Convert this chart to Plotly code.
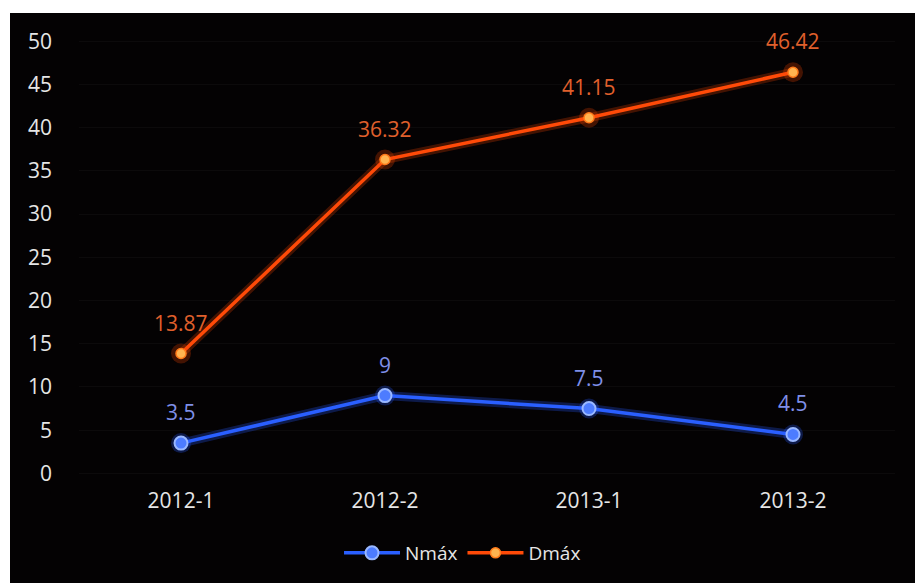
import plotly.graph_objects as go

periods = ["2012-1", "2012-2", "2013-1", "2013-2"]
n_max = [3.5, 9, 7.5, 4.5]
d_max = [13.87, 36.32, 41.15, 46.42]
y_ticks = [0, 5, 10, 15, 20, 25, 30, 35, 40, 45, 50]

FONT = "Open Sans"
BLUE = "#2a5fff"
ORANGE = "#ff4a08"
BG = "#040203"
W, H = 915, 583
ML, MR, MT, MB = 79, 20, 24, 100
PW, PH = W - ML - MR, H - MT - MB

fig = go.Figure()

# soft glow under each line
for vals, col in [(n_max, "rgba(40,90,255,0.28)"), (d_max, "rgba(255,70,0,0.25)")]:
    fig.add_trace(go.Scatter(
        x=periods, y=vals, mode="lines+markers",
        line=dict(color=col, width=9), marker=dict(size=20, color=col),
        hoverinfo="skip", showlegend=False,
    ))

fig.add_trace(go.Scatter(
    x=periods, y=n_max, name="Nmáx", mode="lines+markers",
    line=dict(color=BLUE, width=3.5),
    marker=dict(size=13, color="#4d7cff", line=dict(color="#9ab8ff", width=2)),
))
fig.add_trace(go.Scatter(
    x=periods, y=d_max, name="Dmáx", mode="lines+markers",
    line=dict(color=ORANGE, width=3.5),
    marker=dict(size=10, color="#ffb450", line=dict(color="#ff7a1a", width=1.5)),
))

# value labels above each point
for vals, col in [(n_max, "#7f8fe8"), (d_max, "#e0602c")]:
    for p, v in zip(periods, vals):
        fig.add_annotation(
            x=p, y=v, text=f"{v:g}", showarrow=False, yshift=31,
            font=dict(family=FONT, size=21, color=col),
        )

fig.update_layout(
    width=W, height=H,
    margin=dict(l=ML, r=MR, t=MT, b=MB),
    paper_bgcolor=BG, plot_bgcolor="rgba(0,0,0,0)",
    font=dict(family=FONT, color="#e6e6e6"),
    xaxis=dict(
        type="category", range=[-0.5, 3.5], showgrid=False, zeroline=False,
        showline=False, tickfont=dict(size=21, color="#e6e6e6"),
        ticks="outside", ticklen=0, tickcolor="rgba(0,0,0,0)",
    ),
    yaxis=dict(
        range=[-1, 52], tickvals=y_ticks, showgrid=True,
        gridcolor="rgba(255,255,255,0.035)", zeroline=False, showline=False,
        tickfont=dict(size=21, color="#e6e6e6"), ticklabelstandoff=26,
    ),
    legend=dict(
        orientation="h", x=0.47, xanchor="center",
        y=-(553 - (H - MB)) / PH, yanchor="middle",
        font=dict(size=19, color="#e6e6e6"), bgcolor="rgba(0,0,0,0)",
        itemwidth=56,
    ),
    shapes=[
        # white page border along the top and left edges
        dict(type="rect", xref="paper", yref="paper",
             x0=-(ML + 10) / PW, x1=1 + (MR + 10) / PW,
             y0=1 + (MT - 13) / PH, y1=1 + (MT + 10) / PH,
             fillcolor="white", line_width=0, layer="above"),
        dict(type="rect", xref="paper", yref="paper",
             x0=-(ML + 10) / PW, x1=-(ML - 10) / PW,
             y0=-(MB + 10) / PH, y1=1 + (MT + 10) / PH,
             fillcolor="white", line_width=0, layer="above"),
    ],
)

fig.write_html(
    "out.html",
    post_script="document.body.style.margin='0';document.body.style.background='#040203';",
)
